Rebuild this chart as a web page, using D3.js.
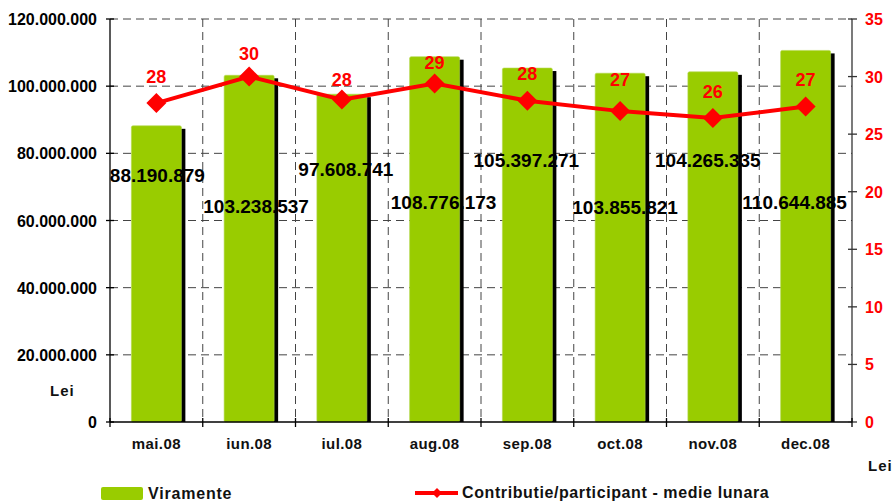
<!DOCTYPE html>
<html>
<head>
<meta charset="utf-8">
<script src="https://cdn.jsdelivr.net/npm/d3@7"></script>
<style>
  body { margin: 0; background: #fff; }
  text { font-family: "Liberation Sans", Arial, sans-serif; font-weight: bold; }
</style>
</head>
<body>
<div id="canvas"></div>
<script>
// Data
const months = ['mai.08', 'iun.08', 'iul.08', 'aug.08', 'sep.08', 'oct.08', 'nov.08', 'dec.08'];
const viramente = [88190879, 103238537, 97608741, 108776173, 105397271, 103855821, 104265335, 110644885];
const contributie = [27.7, 30.0, 28.0, 29.4, 27.9, 27.0, 26.4, 27.4];
const leftTicks = [0, 20000000, 40000000, 60000000, 80000000, 100000000, 120000000];
const rightTicks = [0, 5, 10, 15, 20, 25, 30, 35];

// Label placement as Excel left it (offsets in px)
const barLabelDx = [1, 7, 4, 9, -1, 5, -5, -11];
const barLabelY = [182, 213, 176, 209, 167, 214, 167, 209];
const lineLabelDy = [-20, -17, -14, -14, -21, -25, -20, -21];

const width = 895, height = 502;
const margin = { left: 110, right: 43, top: 19, bottom: 80 };
const plotW = width - margin.left - margin.right;
const plotH = height - margin.top - margin.bottom;

const svg = d3.select('#canvas').append('svg')
    .attr('width', width).attr('height', height);

const x = d3.scaleBand().domain(months).range([margin.left, margin.left + plotW]);
const yL = d3.scaleLinear().domain([0, 120000000]).range([margin.top + plotH, margin.top]);
const yR = d3.scaleLinear().domain([0, 35]).range([margin.top + plotH, margin.top]);

const fmt = d => d3.format(',')(d).replace(/,/g, '.');

// Grid
const grid = svg.append('g').attr('stroke', '#444').attr('stroke-dasharray', '8,5').attr('stroke-width', 1);
leftTicks.slice(1).forEach(t => {
    grid.append('line')
        .attr('x1', margin.left).attr('x2', margin.left + plotW)
        .attr('y1', yL(t)).attr('y2', yL(t));
});
months.slice(1).forEach(m => {
    grid.append('line')
        .attr('x1', x(m)).attr('x2', x(m))
        .attr('y1', margin.top).attr('y2', margin.top + plotH);
});

// Bars with black shadow
const barW = 50;
const bars = svg.append('g');
months.forEach((m, i) => {
    const cx = x(m) + x.bandwidth() / 2;
    const top = yL(viramente[i]);
    bars.append('rect')
        .attr('x', cx - barW / 2 + 4).attr('y', top + 3)
        .attr('width', barW).attr('height', yL(0) - top - 3)
        .attr('fill', '#000');
    bars.append('rect')
        .attr('x', cx - barW / 2).attr('y', top)
        .attr('width', barW).attr('height', yL(0) - top)
        .attr('rx', 1.5)
        .attr('fill', '#99CC00')
        .attr('stroke', '#b3d94d').attr('stroke-width', 0.6);
});

// Axes
const axis = svg.append('g').attr('stroke', '#000').attr('stroke-width', 1.3);
axis.append('line').attr('x1', margin.left).attr('x2', margin.left)
    .attr('y1', margin.top).attr('y2', yL(0));
axis.append('line').attr('x1', margin.left + plotW).attr('x2', margin.left + plotW)
    .attr('y1', margin.top).attr('y2', yL(0)).attr('stroke', '#333');
axis.append('line').attr('x1', margin.left).attr('x2', margin.left + plotW)
    .attr('y1', yL(0)).attr('y2', yL(0));

leftTicks.forEach(t => {
    axis.append('line').attr('x1', margin.left - 4).attr('x2', margin.left + 4)
        .attr('y1', yL(t)).attr('y2', yL(t));
    svg.append('text').attr('x', margin.left - 13).attr('y', yL(t) + 6)
        .attr('text-anchor', 'end').attr('font-size', 16).attr('fill', '#000')
        .text(fmt(t));
});
rightTicks.forEach(t => {
    axis.append('line').attr('x1', margin.left + plotW - 4).attr('x2', margin.left + plotW + 5)
        .attr('y1', yR(t)).attr('y2', yR(t)).attr('stroke', '#333');
    svg.append('text').attr('x', margin.left + plotW + 13).attr('y', yR(t) + 6)
        .attr('font-size', 16).attr('fill', '#FF0000')
        .text(t);
});
[...months.map(m => x(m)), margin.left + plotW].forEach(px => {
    axis.append('line').attr('x1', px).attr('x2', px)
        .attr('y1', yL(0) - 4).attr('y2', yL(0) + 5);
});
months.forEach(m => {
    svg.append('text').attr('x', x(m) + x.bandwidth() / 2).attr('y', 449)
        .attr('text-anchor', 'middle').attr('font-size', 15).attr('fill', '#111')
        .attr('letter-spacing', 0.4)
        .text(m);
});

// Unit labels
svg.append('text').attr('x', 50).attr('y', 396).attr('font-size', 15).attr('fill', '#111')
    .attr('letter-spacing', 1).text('Lei');
svg.append('text').attr('x', 868).attr('y', 471).attr('font-size', 15).attr('fill', '#111')
    .attr('letter-spacing', 1).text('Lei');

// Bar value labels
months.forEach((m, i) => {
    svg.append('text')
        .attr('x', x(m) + x.bandwidth() / 2 + barLabelDx[i]).attr('y', barLabelY[i])
        .attr('text-anchor', 'middle').attr('font-size', 19).attr('fill', '#000')
        .text(fmt(viramente[i]));
});

// Line
const line = d3.line()
    .x((d, i) => x(months[i]) + x.bandwidth() / 2)
    .y(d => yR(d));
svg.append('path').datum(contributie)
    .attr('d', line).attr('fill', 'none')
    .attr('stroke', '#FF0000').attr('stroke-width', 4);

const diamond = (cx, cy, r) => `M${cx},${cy - r}L${cx + r},${cy}L${cx},${cy + r}L${cx - r},${cy}Z`;
contributie.forEach((v, i) => {
    const cx = x(months[i]) + x.bandwidth() / 2;
    svg.append('path').attr('d', diamond(cx, yR(v), 10)).attr('fill', '#FF0000');
    svg.append('text').attr('x', cx).attr('y', yR(v) + lineLabelDy[i])
        .attr('text-anchor', 'middle').attr('font-size', 18).attr('fill', '#FF0000')
        .text(Math.round(v));
});

// Legend
svg.append('rect').attr('x', 101).attr('y', 487).attr('width', 42).attr('height', 13)
    .attr('rx', 2).attr('fill', '#99CC00');
svg.append('text').attr('x', 148).attr('y', 499).attr('font-size', 16).attr('fill', '#111')
    .attr('letter-spacing', 0.8).text('Viramente');
svg.append('line').attr('x1', 415).attr('x2', 458).attr('y1', 493).attr('y2', 493)
    .attr('stroke', '#FF0000').attr('stroke-width', 4);
svg.append('path').attr('d', diamond(437, 493, 5)).attr('fill', '#FF0000');
svg.append('text').attr('x', 462).attr('y', 498).attr('font-size', 16).attr('fill', '#111')
    .attr('letter-spacing', 0.6).text('Contributie/participant - medie lunara');
</script>
</body>
</html>
